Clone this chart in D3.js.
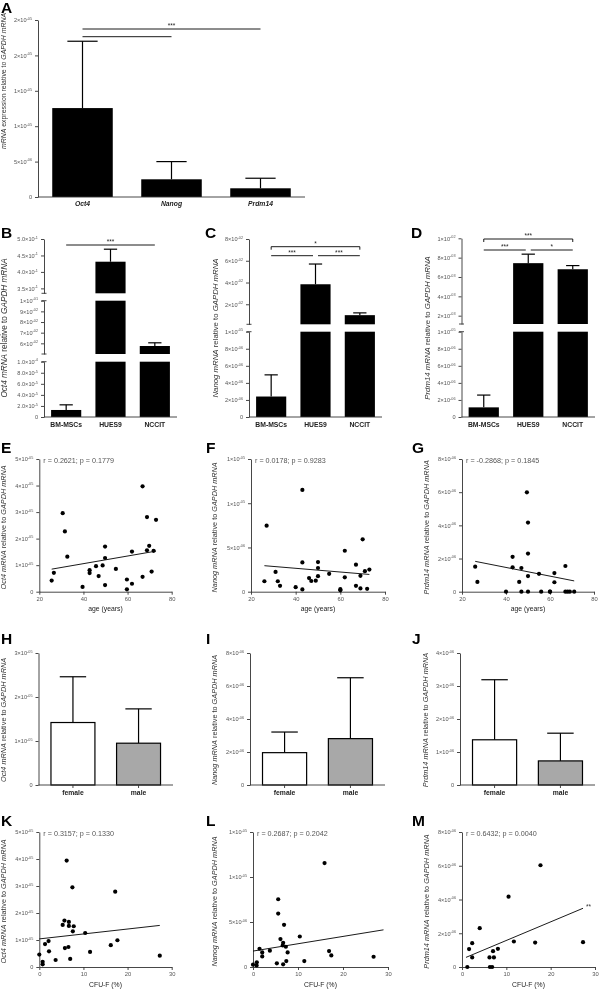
<!DOCTYPE html>
<html><head><meta charset="utf-8">
<script src="https://cdn.jsdelivr.net/npm/d3@7"></script>
<style>body{margin:0;background:#fff} #chart{filter:grayscale(100%)}</style>
</head><body><div id="chart"></div>
<script>
// ================= DATA =================
// Panel A (units: ratio to GAPDH)
const genes = ["Oct4","Nanog","Prdm14"];
const aMean  = [1.256e-5, 2.5e-6, 1.23e-6];
const aUpper = [2.2e-5, 5.0e-6, 2.65e-6];
const aTicks = [0,5e-6,1e-5,1.5e-5,2e-5,2.5e-5];
const aTickLabels = ["0","5×10|-06","1×10|-05","1×10|-05","2×10|-05","2×10|-05"];

// Panels B-D
const cellLines = ["BM-MSCs","HUES9","NCCIT"];
const bMean  = [1.27e-5, 0.431, 0.0575];
const bUpper = [2.2e-5, 0.469, 0.0605];
const cMean  = [2.4e-6, 0.0384, 0.0100];
const cUpper = [4.94e-6, 0.057, 0.0121];
const dMean  = [1.13e-6, 0.00743, 0.0068];
const dUpper = [2.57e-6, 0.00836, 0.00718];

const bSegDomains = [[0,1e-4],[0.05,0.1],[0.335,0.5]];
const bSegTicks = [[0,2e-5,4e-5,6e-5,8e-5,1e-4],[0.06,0.07,0.08,0.09,0.1],[0.35,0.4,0.45,0.5]];
const bSegLabels = [["0","2.0×10|-5","4.0×10|-5","6.0×10|-5","8.0×10|-5","1.0×10|-4"],
                    ["6×10|-02","7×10|-02","8×10|-02","9×10|-02","1×10|-01"],
                    ["3.5×10|-1","4.0×10|-1","4.5×10|-1","5.0×10|-1"]];
const cSegDomains = [[0,1e-5],[0.0016,0.08]];
const cSegTicks = [[0,2e-6,4e-6,6e-6,8e-6,1e-5],[0.02,0.04,0.06,0.08]];
const cSegLabels = [["0","2×10|-06","4×10|-06","6×10|-06","8×10|-06","1×10|-05"],
                    ["2×10|-02","4×10|-02","6×10|-02","8×10|-02"]];
const dSegDomains = [[0,1e-5],[0.00114,0.01]];
const dSegTicks = [[0,2e-6,4e-6,6e-6,8e-6,1e-5],[0.002,0.004,0.006,0.008,0.01]];
const dSegLabels = [["0","2×10|-06","4×10|-06","6×10|-06","8×10|-06","1×10|-05"],
                    ["2×10|-03","4×10|-03","6×10|-03","8×10|-03","1×10|-02"]];
const bSig = [{from:0,to:2,level:0,label:"***"}];
const cSig = [{from:0,to:2,level:0,label:"*"},{from:0,to:1,level:1,label:"***"},{from:1,to:2,level:1,label:"***"}];
const dSig = [{from:0,to:2,level:0,label:"***"},{from:0,to:1,level:1,label:"***"},{from:1,to:2,level:1,label:"*"}];

// Panels E-G: expression vs age
const eAge  = [25.6,26.6,30.6,31.6,32.7,39.6,42.8,42.8,45.7,46.9,48.7,49.8,49.8,49.8,54.7,59.7,59.7,62,62,66.8,66.8,68.8,68.8,69.8,70.9,71.8,72.9];
const eOct4 = [0.42e-5,0.71e-5,2.96e-5,2.27e-5,1.32e-5,0.18e-5,0.81e-5,0.70e-5,0.96e-5,0.59e-5,0.99e-5,1.70e-5,1.27e-5,0.25e-5,0.86e-5,0.46e-5,0.09e-5,0.30e-5,1.51e-5,0.56e-5,3.97e-5,2.81e-5,1.56e-5,1.73e-5,0.76e-5,1.54e-5,2.71e-5];
const eLineX = [25.6,72.9], eLineY = [0.85e-5,1.53e-5];
const fAge  = [26,27,31,32,33,40,43,43,43,46,47,49,50,50,50,55,60,60,62,62,67,67,69,69,70,71,72,73];
const fNanog = [1.18e-6,7.46e-6,2.24e-6,1.18e-6,0.66e-6,0.51e-6,3.31e-6,0.26e-6,11.5e-6,1.54e-6,1.21e-6,1.25e-6,3.35e-6,2.68e-6,1.76e-6,2.02e-6,0.29e-6,0.15e-6,4.63e-6,1.62e-6,3.05e-6,0.66e-6,1.80e-6,0.37e-6,5.92e-6,2.32e-6,0.33e-6,2.50e-6];
const fLineX = [26,73], fLineY = [2.94e-6,1.95e-6];
const gAge  = [26,27,40,43,43,46,47,47,49.5,50,50,50,50,55,56,60,60,62,62,67,67,68,69,71];
const gPrdm14 = [1.51e-6,0.59e-6,0,2.10e-6,1.47e-6,0.59e-6,1.43e-6,0,5.99e-6,0,2.30e-6,0.94e-6,4.17e-6,1.08e-6,0,0,0,1.12e-6,0.57e-6,0,1.55e-6,0,0,0];
const gLineX = [26,71], gLineY = [1.83e-6,0.65e-6];

// Panels H-J: by sex
const sexes = ["female","male"];
const hMean = [1.42e-5,0.95e-5], hUpper = [2.46e-5,1.73e-5];
const iMean = [1.96e-6,2.81e-6], iUpper = [3.21e-6,6.5e-6];
const jMean = [1.37e-6,0.73e-6], jUpper = [3.19e-6,1.57e-6];

// Panels K-M: expression vs CFU-F
const kCfu = [0,0.76,0.76,1.3,2.1,2.2,3.7,5.3,5.7,5.8,6.2,6.6,6.7,6.7,7.0,7.5,7.6,7.8,10.4,11.5,16.2,17.2,17.7,27.3];
const kOct4 = [0.46e-5,0.19e-5,0.10e-5,0.85e-5,0.96e-5,0.58e-5,0.26e-5,1.56e-5,1.72e-5,0.70e-5,3.94e-5,0.74e-5,1.67e-5,1.52e-5,0.30e-5,2.95e-5,1.32e-5,1.51e-5,1.26e-5,0.56e-5,0.81e-5,2.79e-5,0.99e-5,0.42e-5];
const kLineX = [0,27.3], kLineY = [1.04e-5,1.54e-5];
const lCfu = [0,0.8,0.85,1.45,2.05,2.05,3.75,5.3,5.6,5.6,6.1,6.6,6.7,6.7,6.9,7.3,7.4,7.7,10.4,11.4,15.9,16.9,17.4,26.8];
const lNanog = [0.26e-6,0.18e-6,0.52e-6,2.03e-6,1.62e-6,1.18e-6,1.81e-6,0.41e-6,7.53e-6,5.94e-6,3.10e-6,2.40e-6,2.69e-6,0.30e-6,4.69e-6,2.25e-6,0.66e-6,1.62e-6,3.39e-6,0.66e-6,11.55e-6,1.77e-6,1.29e-6,1.14e-6];
const lLineX = [0,29], lLineY = [1.77e-6,4.13e-6];
const mCfu = [1.2,1.6,2.3,2.3,4.0,6.2,6.3,6.8,7.0,7.2,8.1,10.5,11.7,16.5,17.7,27.3];
const mPrdm14 = [0,1.06e-6,1.41e-6,0.57e-6,2.30e-6,0.57e-6,0,0,0.94e-6,0.57e-6,1.08e-6,4.17e-6,1.51e-6,1.45e-6,6.03e-6,1.47e-6];
const mLineX = [0.9,27.3], mLineY = [0.57e-6,3.48e-6];

// tick definitions
const ticksOct4 = [0,1e-5,2e-5,3e-5,4e-5,5e-5];
const labelsOct4 = ["0","1×10|-05","2×10|-05","3×10|-05","4×10|-05","5×10|-05"];
const ticksNanog = [0,5e-6,1e-5,1.5e-5];
const labelsNanog = ["0","5×10|-06","1×10|-05","1×10|-05"];
const ticksPrdm = [0,2e-6,4e-6,6e-6,8e-6];
const labelsPrdm = ["0","2×10|-06","4×10|-06","6×10|-06","8×10|-06"];
const ticksAge = [20,40,60,80];
const ticksCfu = [0,10,20,30];
const hTicks = [0,1e-5,2e-5,3e-5], hLabels = ["0","1×10|-05","2×10|-05","3×10|-05"];
const iTicks = [0,2e-6,4e-6,6e-6,8e-6], iLabels = ["0","2×10|-06","4×10|-06","6×10|-06","8×10|-06"];
const jTicks = [0,1e-6,2e-6,3e-6,4e-6], jLabels = ["0","1×10|-06","2×10|-06","3×10|-06","4×10|-06"];

const statsE = "r = 0.2621; p = 0.1779", statsF = "r = 0.0178; p = 0.9283", statsG = "r = -0.2868; p = 0.1845";
const statsK = "r = 0.3157; p = 0.1330", statsL = "r = 0.2687; p = 0.2042", statsM = "r = 0.6432; p = 0.0040";

// ================= DRAW =================
const FONT = "Arial, 'Liberation Sans', Helvetica, sans-serif";
const svg = d3.select("#chart").append("svg").attr("width",600).attr("height",990)
  .attr("font-family",FONT);
svg.append("rect").attr("width",600).attr("height",990).attr("fill","#fff");
const AX = "#333";

function styleAxis(ag, fs, color){
  ag.attr("font-family", null).attr("font-size", fs);
  ag.select(".domain").attr("stroke",AX).attr("stroke-width",0.9);
  ag.selectAll(".tick line").attr("stroke",AX).attr("stroke-width",0.9);
  ag.selectAll(".tick text").attr("fill",color||"#555").each(function(){
    const s = d3.select(this); const p = s.text().split("|");
    if (p.length>1){
      s.text(null);
      s.append("tspan").text(p[0]);
      s.append("tspan").attr("font-size",fs*0.68).attr("dy",-fs*0.45).text(p[1]);
    }
  });
}
function letter(t,x,y){
  svg.append("text").attr("x",x).attr("y",y).attr("font-size",15.5).attr("font-weight","bold").attr("fill","#000").text(t);
}
function yTitle(x,y,parts,fs){
  const t = svg.append("text").attr("transform",`translate(${x},${y}) rotate(-90)`)
    .attr("text-anchor","middle").attr("font-size",fs).attr("fill","#333");
  parts.forEach(([s,it])=>t.append("tspan").attr("font-style",it?"italic":"normal").text(s));
}
function errorBar(g,cx,y0,y1,half){
  g.append("line").attr("x1",cx).attr("x2",cx).attr("y1",y0).attr("y2",y1).attr("stroke","#000").attr("stroke-width",1.2);
  g.append("line").attr("x1",cx-half).attr("x2",cx+half).attr("y1",y1).attr("y2",y1).attr("stroke","#000").attr("stroke-width",1.2);
}
function hline(g,x1,x2,y){ g.append("line").attr("x1",x1).attr("x2",x2).attr("y1",y).attr("y2",y).attr("stroke","#000").attr("stroke-width",0.9); }
function vline(g,x,y1,y2){ g.append("line").attr("x1",x).attr("x2",x).attr("y1",y1).attr("y2",y2).attr("stroke","#000").attr("stroke-width",0.9); }
function star(g,x,y,s){ g.append("text").attr("x",x).attr("y",y).attr("text-anchor","middle").attr("font-size",6.5).attr("fill","#222").text(s); }

const tOct4 = [["Oct4",1],[" mRNA",1],[" relative to ",0],["GAPDH mRNA",1]];
const tNanog = [["Nanog",1],[" mRNA",1],[" relative to ",0],["GAPDH mRNA",1]];
const tPrdm = [["Prdm14",1],[" mRNA",1],[" relative to ",0],["GAPDH mRNA",1]];

// ---------- Panel A ----------
(function(){
  const g = svg.append("g");
  const x0=38, x1=305, yZ=197, yT=20;
  const x = d3.scaleBand().domain(genes).range([x0,x1]).paddingInner(0.32).paddingOuter(0.16);
  const y = d3.scaleLinear().domain([0,2.5e-5]).range([yZ,yT]);
  const bw = x.bandwidth();
  genes.forEach((c,i)=>{
    g.append("rect").attr("x",x(c)).attr("y",y(aMean[i])).attr("width",bw).attr("height",yZ-y(aMean[i])).attr("fill","#000");
    errorBar(g,x(c)+bw/2,y(aMean[i]),y(aUpper[i]),bw*0.25);
  });
  const ag = g.append("g").attr("transform",`translate(${x0},0)`)
    .call(d3.axisLeft(y).tickValues(aTicks).tickFormat((d,i)=>aTickLabels[i]).tickSize(3).tickSizeOuter(0));
  styleAxis(ag,5.6);
  const xg = g.append("g").attr("transform",`translate(0,${yZ})`).call(d3.axisBottom(x).tickSize(0).tickPadding(4));
  styleAxis(xg,6.8,"#222");
  xg.select(".domain").attr("d",`M${x0},0H${x1}`);
  xg.selectAll(".tick text").attr("font-style","italic").attr("font-weight","bold");
  const c = k=>x(genes[k])+bw/2;
  hline(g,c(0),c(2),29); star(g,(c(0)+c(2))/2,27.5,"***");
  hline(g,c(0),c(1),36.7);
  yTitle(6,81,[["mRNA",1],[" expression relative to ",0],["GAPDH mRNA",1]],6.9);
  letter("A",1,13);
})();

// ---------- Panels B-D ----------
function breakPanel(o){
  const g = svg.append("g");
  const x = d3.scaleBand().domain(cellLines).range([o.x0,o.x1]).paddingInner(0.32).paddingOuter(0.16);
  const bw = x.bandwidth();
  o.segRanges.forEach((rng,si)=>{
    const dom = o.segDomains[si];
    const y = d3.scaleLinear().domain(dom).range(rng);
    cellLines.forEach((c,i)=>{
      const m = o.mean[i];
      if (m > dom[0]){
        const v = Math.min(m,dom[1]);
        g.append("rect").attr("x",x(c)).attr("y",y(v)).attr("width",bw).attr("height",rng[0]-y(v)).attr("fill","#000");
      }
      if (m > dom[0] && m <= dom[1]){
        errorBar(g,x(c)+bw/2,y(m),y(Math.min(o.upper[i],dom[1])),bw*0.22);
      }
    });
    const ag = g.append("g").attr("transform",`translate(${o.x0},0)`)
      .call(d3.axisLeft(y).tickValues(o.segTicks[si]).tickFormat((d,i)=>o.segLabels[si][i]).tickSize(3).tickSizeOuter(0));
    styleAxis(ag,5.6);
    if (si>0) g.append("line").attr("x1",o.x0-2.5).attr("x2",o.x0+2.5).attr("y1",rng[0]).attr("y2",rng[0]).attr("stroke",AX).attr("stroke-width",0.9);
    if (si<o.segRanges.length-1) g.append("line").attr("x1",o.x0-2.5).attr("x2",o.x0+2.5).attr("y1",rng[1]).attr("y2",rng[1]).attr("stroke",AX).attr("stroke-width",0.9);
  });
  const yZ = o.segRanges[0][0];
  const xg = g.append("g").attr("transform",`translate(0,${yZ})`).call(d3.axisBottom(x).tickSize(0).tickPadding(5));
  styleAxis(xg,6.8,"#222");
  xg.select(".domain").attr("d",`M${o.x0},0H${o.x1}`);
  xg.selectAll(".tick text").attr("font-weight","bold");
  const c = k=>x(cellLines[k])+bw/2;
  o.sig.forEach(s=>{
    if (s.level===0){
      const yy = o.sigY[0];
      hline(g,c(s.from),c(s.to),yy);
      if (o.bracket){ vline(g,c(s.from),yy,yy+3); vline(g,c(s.to),yy,yy+3); }
      star(g,(c(s.from)+c(s.to))/2,yy-1,s.label);
    } else {
      const yy = o.sigY[1];
      const a = s.from===0 ? c(0) : c(1)+2.5;
      const b = s.to===1 ? c(1)-2.5 : c(2);
      hline(g,a,b,yy);
      star(g,(a+b)/2,yy-1,s.label);
    }
  });
  yTitle(o.tx,328,o.title,o.tfs);
  letter(o.letter,o.lx,238);
}
breakPanel({x0:44,x1:177,mean:bMean,upper:bUpper,segDomains:bSegDomains,segTicks:bSegTicks,segLabels:bSegLabels,
  segRanges:[[417,361.7],[354,300.7],[293.3,239]],sig:bSig,sigY:[245],bracket:false,title:tOct4,tx:7,tfs:8.2,letter:"B",lx:1});
breakPanel({x0:249,x1:382,mean:cMean,upper:cUpper,segDomains:cSegDomains,segTicks:cSegTicks,segLabels:cSegLabels,
  segRanges:[[417,331.7],[324.3,239]],sig:cSig,sigY:[246.7,255.7],bracket:true,title:tNanog,tx:218,tfs:7.8,letter:"C",lx:205});
breakPanel({x0:461.5,x1:595,mean:dMean,upper:dUpper,segDomains:dSegDomains,segTicks:dSegTicks,segLabels:dSegLabels,
  segRanges:[[417,331.7],[324,238.3]],sig:dSig,sigY:[239,250],bracket:true,title:tPrdm,tx:430,tfs:7.8,letter:"D",lx:411});

// ---------- Scatter panels ----------
function scatter(o){
  const g = svg.append("g");
  const x = d3.scaleLinear().domain(o.xDomain).range([o.x0,o.x1]);
  const y = d3.scaleLinear().domain(o.yDomain).range([o.yZ,o.yT]);
  const ag = g.append("g").attr("transform",`translate(${o.x0},0)`)
    .call(d3.axisLeft(y).tickValues(o.yTicks).tickFormat((d,i)=>o.yLabels[i]).tickSize(3).tickSizeOuter(0));
  styleAxis(ag,5.6);
  const xg = g.append("g").attr("transform",`translate(0,${o.yZ})`)
    .call(d3.axisBottom(x).tickValues(o.xTicks).tickSize(3).tickPadding(2).tickSizeOuter(0));
  styleAxis(xg,5.8);
  g.append("line").attr("x1",x(o.lineX[0])).attr("x2",x(o.lineX[1])).attr("y1",y(o.lineY[0])).attr("y2",y(o.lineY[1]))
    .attr("stroke","#000").attr("stroke-width",0.9);
  g.selectAll("circle.pt").data(o.xs).join("circle").attr("class","pt")
    .attr("cx",d=>x(d)).attr("cy",(d,i)=>y(o.ys[i])).attr("r",2.1).attr("fill","#000");
  g.append("text").attr("x",o.x0+4).attr("y",o.yT+3.5).attr("font-size",7.2).attr("fill","#555").text(o.stat);
  g.append("text").attr("x",(o.x0+o.x1)/2).attr("y",o.yZ+19.5).attr("text-anchor","middle").attr("font-size",6.8).attr("fill","#222").text(o.xTitle);
  if (o.mark) g.append("text").attr("x",x(o.lineX[1])+3).attr("y",y(o.lineY[1])+1).attr("font-size",6.5).attr("fill","#333").text(o.mark);
  yTitle(o.tx,(o.yZ+o.yT)/2+2,o.title,7.3);
  letter(o.letter,o.lx,o.ly);
}
const rowE = {yZ:591.7,yT:459,xDomain:[20,80],xTicks:ticksAge,xTitle:"age (years)",ly:453};
scatter({...rowE,x0:39.3,x1:171.7,yDomain:[0,5e-5],yTicks:ticksOct4,yLabels:labelsOct4,xs:eAge,ys:eOct4,lineX:eLineX,lineY:eLineY,stat:statsE,title:tOct4,tx:6,letter:"E",lx:1});
scatter({...rowE,x0:251,x1:385,yDomain:[0,1.5e-5],yTicks:ticksNanog,yLabels:labelsNanog,xs:fAge,ys:fNanog,lineX:fLineX,lineY:fLineY,stat:statsF,title:tNanog,tx:217,letter:"F",lx:206});
scatter({...rowE,x0:462,x1:594,yDomain:[0,8e-6],yTicks:ticksPrdm,yLabels:labelsPrdm,xs:gAge,ys:gPrdm14,lineX:gLineX,lineY:gLineY,stat:statsG,title:tPrdm,tx:429,letter:"G",lx:412});

const rowK = {yZ:967,yT:832,xDomain:[0,30],xTicks:ticksCfu,xTitle:"CFU-F (%)",ly:826};
scatter({...rowK,x0:39.3,x1:171.7,yDomain:[0,5e-5],yTicks:ticksOct4,yLabels:labelsOct4,xs:kCfu,ys:kOct4,lineX:kLineX,lineY:kLineY,stat:statsK,title:tOct4,tx:6,letter:"K",lx:1});
scatter({...rowK,x0:253,x1:388,yDomain:[0,1.5e-5],yTicks:ticksNanog,yLabels:labelsNanog,xs:lCfu,ys:lNanog,lineX:lLineX,lineY:lLineY,stat:statsL,title:tNanog,tx:217,letter:"L",lx:206});
scatter({...rowK,x0:462,x1:595,yDomain:[0,8e-6],yTicks:ticksPrdm,yLabels:labelsPrdm,xs:mCfu,ys:mPrdm14,lineX:mLineX,lineY:mLineY,stat:statsM,title:tPrdm,tx:429,letter:"M",lx:412,mark:"**"});

// ---------- Sex panels ----------
function sexPanel(o){
  const g = svg.append("g");
  const yZ=785, yT=653;
  const x = d3.scaleBand().domain(sexes).range([o.x0,o.x1]).paddingInner(0.33).paddingOuter(0.19);
  const y = d3.scaleLinear().domain(o.yDomain).range([yZ,yT]);
  const bw = x.bandwidth();
  const fills = ["#ffffff","#a8a8a8"];
  sexes.forEach((c,i)=>{
    errorBar(g,x(c)+bw/2,y(o.mean[i]),y(o.upper[i]),bw*0.3);
    g.append("rect").attr("x",x(c)).attr("y",y(o.mean[i])).attr("width",bw).attr("height",yZ-y(o.mean[i]))
      .attr("fill",fills[i]).attr("stroke","#000").attr("stroke-width",1.2);
  });
  const ag = g.append("g").attr("transform",`translate(${o.x0},0)`)
    .call(d3.axisLeft(y).tickValues(o.ticks).tickFormat((d,i)=>o.labels[i]).tickSize(3).tickSizeOuter(0));
  styleAxis(ag,5.6);
  const xg = g.append("g").attr("transform",`translate(0,${yZ})`).call(d3.axisBottom(x).tickSize(3).tickPadding(2.5));
  styleAxis(xg,6.8,"#222");
  xg.select(".domain").attr("d",`M${o.x0},0H${o.x1}`);
  xg.selectAll(".tick text").attr("font-weight","bold");
  yTitle(o.tx,720,o.title,7.3);
  letter(o.letter,o.lx,644);
}
sexPanel({x0:38.5,x1:173,yDomain:[0,3e-5],ticks:hTicks,labels:hLabels,mean:hMean,upper:hUpper,title:tOct4,tx:6,letter:"H",lx:1});
sexPanel({x0:250,x1:385,yDomain:[0,8e-6],ticks:iTicks,labels:iLabels,mean:iMean,upper:iUpper,title:tNanog,tx:217,letter:"I",lx:206});
sexPanel({x0:460,x1:595,yDomain:[0,4e-6],ticks:jTicks,labels:jLabels,mean:jMean,upper:jUpper,title:tPrdm,tx:428,letter:"J",lx:412});
</script>
</body></html>
